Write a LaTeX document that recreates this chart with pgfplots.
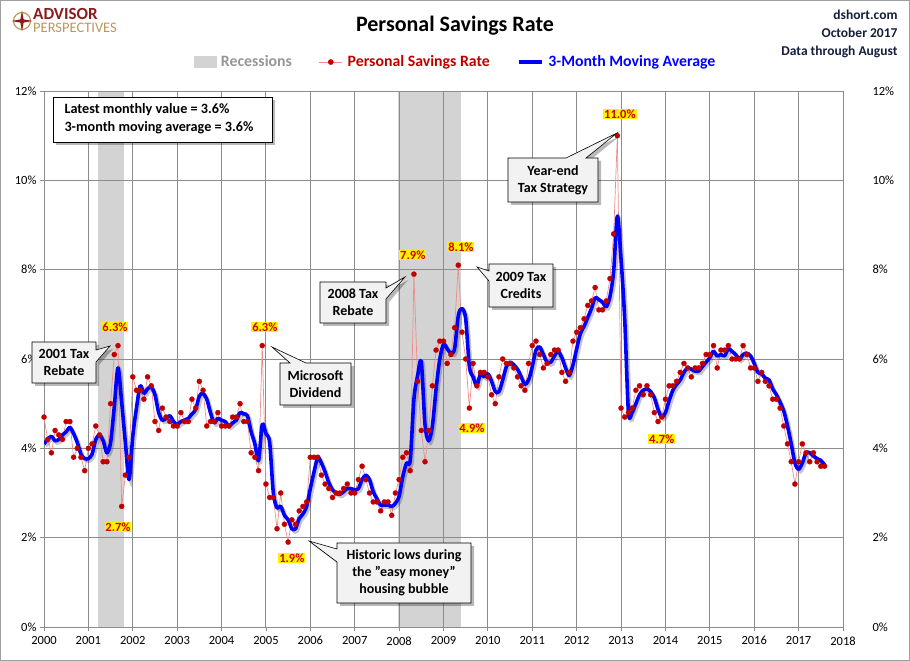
\documentclass[border=0pt]{standalone}
\usepackage{pgfplots}
\pgfplotsset{compat=1.18}
\usepackage{pgfplotstable}
\usepackage{fontspec}
\setmainfont{Carlito}
\setsansfont{Carlito}

\definecolor{recgray}{RGB}{211,211,211}
\definecolor{gridgray}{RGB}{140,140,140}
\definecolor{dotred}{RGB}{192,0,0}
\definecolor{linered}{RGB}{238,140,140}
\definecolor{mablue}{RGB}{0,0,255}
\definecolor{boxfill}{RGB}{242,242,242}
\definecolor{labred}{RGB}{210,0,0}
\definecolor{navy}{RGB}{20,30,60}
\definecolor{logored}{RGB}{140,28,28}
\definecolor{logogold}{RGB}{186,152,92}
\definecolor{leggray}{RGB}{150,150,150}

% month index (0 = Jan 2000), monthly rate, 3-month moving average
\pgfplotstableread{
m rate ma
0 4.7 4.10
1 4.2 4.20
2 3.9 4.27
3 4.4 4.17
4 4.3 4.20
5 4.2 4.30
6 4.6 4.37
7 4.6 4.47
8 3.8 4.33
9 4.0 4.13
10 3.8 3.87
11 3.5 3.77
12 4.0 3.77
13 4.1 3.87
14 4.5 4.20
15 4.3 4.30
16 3.7 4.17
17 3.7 3.90
18 5.0 4.13
19 6.1 4.93
20 6.3 5.80
21 2.7 5.03
22 3.4 4.13
23 3.8 3.30
24 5.6 4.27
25 5.3 4.90
26 5.3 5.40
27 5.1 5.23
28 5.6 5.33
29 5.4 5.37
30 4.6 5.20
31 4.4 4.80
32 4.9 4.63
33 4.7 4.67
34 4.6 4.73
35 4.5 4.60
36 4.5 4.53
37 4.8 4.60
38 4.6 4.63
39 4.6 4.67
40 5.1 4.77
41 4.9 4.87
42 5.5 5.17
43 5.3 5.23
44 4.5 5.10
45 4.6 4.80
46 4.6 4.57
47 4.8 4.67
48 4.5 4.63
49 4.5 4.60
50 4.5 4.50
51 4.7 4.57
52 4.7 4.63
53 5.0 4.80
54 4.6 4.77
55 4.6 4.73
56 3.9 4.37
57 3.8 4.10
58 3.5 3.73
59 6.3 4.53
60 3.2 4.33
61 2.9 4.13
62 2.9 3.00
63 2.2 2.67
64 3.0 2.70
65 2.3 2.50
66 1.9 2.40
67 2.4 2.20
68 2.3 2.20
69 2.6 2.43
70 2.7 2.53
71 2.8 2.70
72 3.8 3.10
73 3.8 3.47
74 3.8 3.80
75 3.4 3.67
76 3.2 3.47
77 3.1 3.23
78 2.9 3.07
79 3.0 3.00
80 3.0 2.97
81 3.1 3.03
82 3.2 3.10
83 3.0 3.10
84 3.0 3.07
85 3.3 3.10
86 3.6 3.30
87 3.3 3.40
88 3.0 3.30
89 2.8 3.03
90 2.8 2.87
91 2.6 2.73
92 2.8 2.73
93 2.8 2.73
94 2.5 2.70
95 3.0 2.77
96 3.3 2.93
97 3.8 3.37
98 3.9 3.67
99 3.5 3.73
100 7.9 5.10
101 5.5 5.63
102 4.4 5.93
103 3.7 4.53
104 4.4 4.17
105 5.4 4.50
106 6.2 5.33
107 6.4 6.00
108 6.4 6.33
109 5.9 6.23
110 6.1 6.13
111 6.7 6.23
112 8.1 6.97
113 6.6 7.13
114 6.0 6.90
115 4.9 5.83
116 5.9 5.60
117 5.4 5.40
118 5.7 5.67
119 5.7 5.60
120 5.6 5.67
121 5.2 5.50
122 5.0 5.27
123 5.6 5.27
124 6.0 5.53
125 5.9 5.83
126 5.9 5.93
127 5.8 5.87
128 5.6 5.77
129 5.4 5.60
130 5.3 5.43
131 5.9 5.53
132 6.3 5.83
133 6.4 6.20
134 6.1 6.27
135 5.8 6.10
136 5.9 5.93
137 6.1 5.93
138 6.2 6.07
139 6.2 6.17
140 5.7 6.03
141 5.5 5.80
142 5.7 5.63
143 6.4 5.87
144 6.6 6.23
145 6.7 6.57
146 6.9 6.73
147 7.2 6.93
148 7.3 7.13
149 7.6 7.37
150 7.1 7.33
151 7.1 7.27
152 7.3 7.17
153 7.8 7.40
154 8.8 7.97
155 11.0 9.20
156 4.9 8.23
157 4.7 6.87
158 4.8 4.80
159 4.9 4.80
160 5.3 5.00
161 5.4 5.20
162 5.2 5.30
163 5.4 5.33
164 5.2 5.27
165 4.8 5.13
166 4.6 4.87
167 4.7 4.70
168 5.1 4.80
169 5.4 5.07
170 5.4 5.30
171 5.5 5.43
172 5.7 5.53
173 5.9 5.70
174 5.8 5.80
175 5.6 5.77
176 5.8 5.73
177 5.8 5.73
178 5.9 5.83
179 6.1 5.93
180 6.1 6.03
181 6.3 6.17
182 5.8 6.07
183 6.2 6.10
184 6.2 6.07
185 6.3 6.23
186 6.0 6.17
187 6.0 6.10
188 6.0 6.00
189 6.3 6.10
190 6.1 6.13
191 5.8 6.07
192 5.8 5.90
193 5.5 5.70
194 5.7 5.67
195 5.5 5.57
196 5.4 5.53
197 5.1 5.33
198 5.1 5.20
199 4.9 5.03
200 4.5 4.83
201 4.1 4.50
202 3.7 4.10
203 3.2 3.67
204 3.7 3.53
205 4.1 3.67
206 3.9 3.90
207 3.7 3.90
208 3.9 3.83
209 3.7 3.77
210 3.6 3.73
211 3.6 3.63
}\savings

% recession spans, in month index
\pgfplotstableread{
m top
14.7 12
21.6 12
}\recA
\pgfplotstableread{
m top
95.8 12
112.6 12
}\recB

\tikzset{
  callout/.style={fill=boxfill, draw=black, line width=0.6pt, line join=miter},
  shadow/.style={fill=black, opacity=0.28, draw=none},
  valbox/.style={fill=yellow, text=labred, inner sep=0.9pt,
    font=\bfseries\fontsize{12.5}{14}\selectfont},
  ctext/.style={align=center, font=\bfseries\fontsize{14}{17}\selectfont, text=black}
}

\begin{document}
\begin{tikzpicture}[x=1pt,y=1pt]
% picture frame
\draw[gray!75, line width=1.2pt] (0.6,0.6) rectangle (909.4,660.4);

\begin{axis}[
  set layers,
  at={(44pt,34pt)}, anchor=south west,
  width=799pt, height=536pt, scale only axis,
  xmin=0, xmax=216, ymin=0, ymax=12,
  xtick={0,12,...,216},
  xticklabels={2000,2001,2002,2003,2004,2005,2006,2007,2008,2009,2010,2011,2012,2013,2014,2015,2016,2017,2018},
  ytick={0,2,4,6,8,10,12},
  yticklabels={0\%,2\%,4\%,6\%,8\%,10\%,12\%},
  ytick pos=left, xtick pos=bottom,
  tick align=outside, major tick length=4pt,
  tick style={gridgray, line width=0.8pt},
  grid=major,
  major grid style={gridgray, line width=0.9pt},
  axis line style={gridgray, line width=0.9pt},
  ticklabel style={font=\fontsize{12.5}{14}\selectfont, text=black},
  xticklabel style={yshift=-2pt},
  legend style={at={(axis description cs:0.515,1.054)}, anchor=center,
    legend columns=3, draw=none, fill=none,
    font=\bfseries\fontsize{15.8}{18}\selectfont,
    /tikz/every odd column/.append style={column sep=3pt},
    /tikz/every even column/.append style={column sep=25pt}},
  legend cell align=left,
]
% recession bands sit beneath the grid
\addplot[fill=recgray, draw=none, on layer=axis background, forget plot]
  table[x=m, y=top] {\recA} \closedcycle;
\addplot[fill=recgray, draw=none, on layer=axis background, forget plot]
  table[x=m, y=top] {\recB} \closedcycle;

% legend symbols
\addlegendimage{legend image code/.code={\fill[recgray] (0pt,-5.5pt) rectangle (22pt,5.5pt);}}
\addlegendentry{\textcolor{leggray}{Recessions}}
\addlegendimage{legend image code/.code={\draw[linered, line width=0.8pt] (0pt,0pt) -- (23pt,0pt);
  \fill[dotred] (11.5pt,0pt) circle (2.6pt);}}
\addlegendentry{\textcolor{dotred}{Personal Savings Rate}}
\addlegendimage{legend image code/.code={\draw[mablue, line width=3.6pt] (0pt,0pt) -- (23pt,0pt);}}
\addlegendentry{\textcolor{mablue}{3-Month Moving Average}}

% monthly rate
\addplot[linered, line width=0.7pt, mark=*, mark size=2.6pt,
  mark options={fill=dotred, draw=dotred, line width=0.2pt}, forget plot]
  table[x=m, y=rate] {\savings};

% shadow under the moving average
\addplot[black, opacity=0.22, line width=3.6pt, smooth, tension=0.5,
  xshift=1.8pt, yshift=-2.2pt, forget plot]
  table[x=m, y=ma] {\savings};
\addplot[mablue, line width=3.6pt, smooth, tension=0.5, line join=round, forget plot]
  table[x=m, y=ma] {\savings};

% value labels
\node[valbox] at (axis cs:19.2,6.72) {6.3\%};
\node[valbox] at (axis cs:20.0,2.24) {2.7\%};
\node[valbox] at (axis cs:59.7,6.72) {6.3\%};
\node[valbox] at (axis cs:67.0,1.54) {1.9\%};
\node[valbox] at (axis cs:99.7,8.33) {7.9\%};
\node[valbox] at (axis cs:112.7,8.51) {8.1\%};
\node[valbox] at (axis cs:115.7,4.45) {4.9\%};
\node[valbox] at (axis cs:155.7,11.48) {11.0\%};
\node[valbox] at (axis cs:167.0,4.21) {4.7\%};
\end{axis}

% right-hand percentage scale
\begin{axis}[
  at={(44pt,34pt)}, anchor=south west,
  width=799pt, height=536pt, scale only axis,
  xmin=0, xmax=216, ymin=0, ymax=12,
  axis x line=none, axis y line*=right,
  ytick={0,2,4,6,8,10,12},
  yticklabels={0\%,2\%,4\%,6\%,8\%,10\%,12\%},
  major tick length=0pt,
  axis line style={draw=none},
  ticklabel style={font=\fontsize{12.5}{14}\selectfont, text=black},
  yticklabel style={anchor=west, xshift=26pt},
]
\addplot[draw=none, forget plot] coordinates {(0,0)};
\end{axis}

% title block
\node[font=\bfseries\fontsize{22}{26}\selectfont] at (455,635) {Personal Savings Rate};
\node[anchor=east, font=\bfseries\fontsize{13.5}{16}\selectfont, text=navy] at (901,646) {dshort.com};
\node[anchor=east, font=\bfseries\fontsize{13.5}{16}\selectfont, text=navy] at (901,628) {October 2017};
\node[anchor=east, font=\bfseries\fontsize{13.5}{16}\selectfont, text=navy] at (901,609) {Data through August};

% logo
\begin{scope}[shift={(22,640)}]
  \draw[logogold, line width=1.2pt] (0,0) circle (8.5);
  \fill[logored] (0,10.5) -- (1.6,1.6) -- (10.5,0) -- (1.6,-1.6) -- (0,-10.5) -- (-1.6,-1.6) -- (-10.5,0) -- (-1.6,1.6) -- cycle;
  \fill[logored] (0,0) circle (2.4);
\end{scope}
\node[anchor=north west, inner sep=0pt, align=left] at (33,653)
  {{\bfseries\fontsize{17}{13}\selectfont\color{logored}ADVISOR}\\[1pt]
   {\fontsize{14.5}{11}\selectfont\color{logogold}PERSPECTIVES}};

% latest value box
\fill[shadow] (56,516) rectangle (275,561);
\draw[fill=white, draw=black, line width=0.8pt] (53,519) rectangle (272,564);
\node[anchor=west, font=\bfseries\fontsize{14.2}{16}\selectfont] at (61,551) {Latest monthly value = 3.6\%};
\node[anchor=west, font=\bfseries\fontsize{14.2}{16}\selectfont] at (61,533) {3-month moving average = 3.6\%};

% callouts
% 2001 Tax Rebate
\fill[shadow] (35,316) -- (99,316) -- (99,308) -- (113,312) -- (99,296) -- (99,275) -- (35,275) -- cycle;
\draw[callout] (32,319) -- (96,319) -- (96,311) -- (110,315) -- (96,299) -- (96,278) -- (32,278) -- cycle;
\node[ctext] at (64,298.5) {2001 Tax\\Rebate};
% Microsoft Dividend
\fill[shadow] (283,295) -- (293,295) -- (275,311) -- (309,295) -- (354,295) -- (354,253) -- (283,253) -- cycle;
\draw[callout] (280,298) -- (290,298) -- (272,314) -- (306,298) -- (351,298) -- (351,256) -- (280,256) -- cycle;
\node[ctext] at (315.5,277) {Microsoft\\Dividend};
% Historic lows
\fill[shadow] (340,115) -- (474,115) -- (474,55) -- (340,55) -- (340,96) -- (312,117) -- (340,109) -- cycle;
\draw[callout] (337,118) -- (471,118) -- (471,58) -- (337,58) -- (337,99) -- (309,120) -- (337,112) -- cycle;
\node[ctext] at (404,88) {Historic lows during\\the "easy money"\\housing bubble};
% 2008 Tax Rebate
\fill[shadow] (323,376) -- (389,376) -- (389,370) -- (408,381) -- (389,359) -- (389,335) -- (323,335) -- cycle;
\draw[callout] (320,379) -- (386,379) -- (386,373) -- (405,384) -- (386,362) -- (386,338) -- (320,338) -- cycle;
\node[ctext] at (353,358.5) {2008 Tax\\Rebate};
% 2009 Tax Credits
\fill[shadow] (492,394) -- (556,394) -- (556,351) -- (492,351) -- (492,377) -- (480,391) -- (492,387) -- cycle;
\draw[callout] (489,397) -- (553,397) -- (553,354) -- (489,354) -- (489,380) -- (477,394) -- (489,390) -- cycle;
\node[ctext] at (521,375.5) {2009 Tax\\Credits};
% Year-end Tax Strategy
\fill[shadow] (511,500) -- (569,500) -- (620,525) -- (589,500) -- (601,500) -- (601,456) -- (511,456) -- cycle;
\draw[callout] (508,503) -- (566,503) -- (617,528) -- (586,503) -- (598,503) -- (598,459) -- (508,459) -- cycle;
\node[ctext] at (553,481) {Year-end\\Tax Strategy};
\end{tikzpicture}
\end{document}
